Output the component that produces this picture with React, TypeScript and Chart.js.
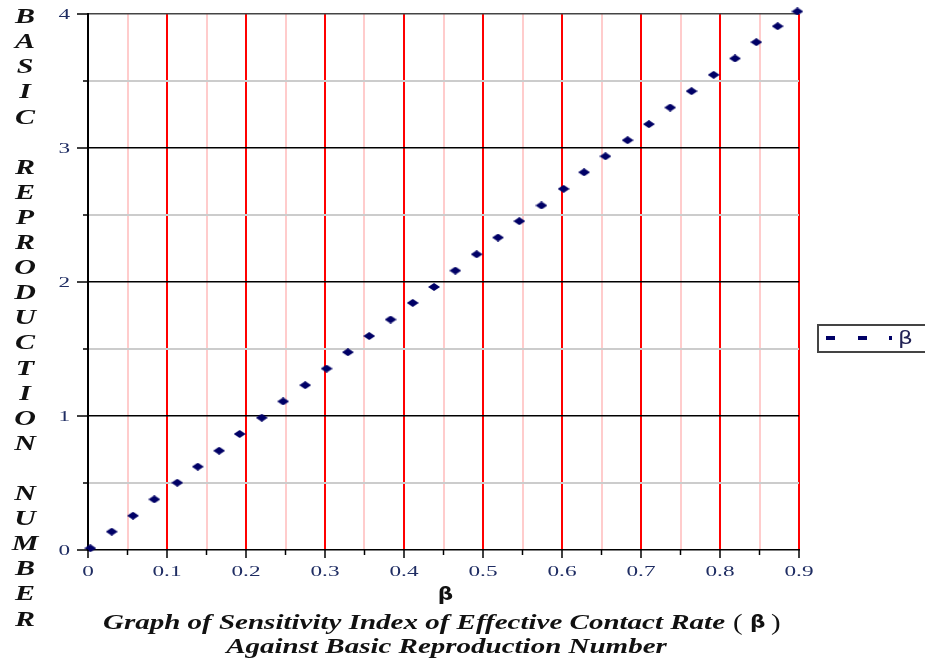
import React, { useEffect, useRef } from 'react';
import { Chart, registerables } from 'chart.js';

Chart.register(...registerables);

// ---- data ----
const seriesName = 'β';
const betaValues = [
  0.003, 0.030, 0.057, 0.084, 0.113, 0.139, 0.166, 0.192, 0.220, 0.247,
  0.275, 0.302, 0.329, 0.356, 0.383, 0.411, 0.438, 0.465, 0.492, 0.519,
  0.546, 0.574, 0.602, 0.628, 0.655, 0.683, 0.710, 0.737, 0.764, 0.792,
  0.819, 0.846, 0.873, 0.898,
];
const r0Values = [
  0.013, 0.137, 0.256, 0.378, 0.502, 0.622, 0.741, 0.866, 0.987, 1.109,
  1.230, 1.354, 1.476, 1.597, 1.720, 1.844, 1.963, 2.085, 2.207, 2.332,
  2.454, 2.571, 2.695, 2.819, 2.938, 3.058, 3.178, 3.302, 3.424, 3.546,
  3.668, 3.790, 3.909, 4.019,
];
const xTickValues = [0, 0.1, 0.2, 0.3, 0.4, 0.5, 0.6, 0.7, 0.8, 0.9];
const xTickLabels = ['0', '0.1', '0.2', '0.3', '0.4', '0.5', '0.6', '0.7', '0.8', '0.9'];
const yTickValues = [0, 1, 2, 3, 4];
const yTickLabels = ['0', '1', '2', '3', '4'];
const xAxisTitle = 'β';
const yAxisTitleWords = ['BASIC', 'REPRODUCTION', 'NUMBER'];
const titleLine1 = 'Graph of Sensitivity Index of Effective Contact Rate';
const titleSymbol = 'β';
const titleLine2 = 'Against Basic Reproduction Number';

const NAVY = '#000066';
const TICK_TEXT = '#1f2d63';

function makeDiamond(): HTMLCanvasElement {
  const c = document.createElement('canvas');
  c.width = 12;
  c.height = 8;
  const g = c.getContext('2d')!;
  g.fillStyle = NAVY;
  g.beginPath();
  g.moveTo(0, 4);
  g.lineTo(6, 0);
  g.lineTo(12, 4);
  g.lineTo(6, 8);
  g.closePath();
  g.fill();
  return c;
}

function stretchText(
  ctx: CanvasRenderingContext2D,
  text: string,
  x: number,
  y: number,
  sx: number,
  align: CanvasTextAlign,
) {
  ctx.save();
  ctx.translate(x, y);
  ctx.scale(sx, 1);
  ctx.textAlign = align;
  ctx.fillText(text, 0, 0);
  ctx.restore();
}

const isMult = (v: number, step: number) => {
  const q = v / step;
  return Math.abs(q - Math.round(q)) < 1e-6;
};

const decorPlugin = {
  id: 'decor',
  afterDraw(chart: any) {
    const ctx: CanvasRenderingContext2D = chart.ctx;
    const { left, right, top, bottom } = chart.chartArea;
    const xs = chart.scales.x;
    const ys = chart.scales.y;
    ctx.save();

    // tick marks
    ctx.strokeStyle = '#000';
    ctx.lineWidth = 1.5;
    for (const t of xs.ticks) {
      const px = xs.getPixelForValue(t.value);
      const len = isMult(t.value, 0.1) ? 8 : 5;
      ctx.beginPath();
      ctx.moveTo(px, bottom);
      ctx.lineTo(px, bottom + len);
      ctx.stroke();
    }
    for (const t of ys.ticks) {
      const py = ys.getPixelForValue(t.value);
      const len = isMult(t.value, 1) ? 11 : 5;
      ctx.beginPath();
      ctx.moveTo(left - len, py);
      ctx.lineTo(left, py);
      ctx.stroke();
    }

    // tick labels
    ctx.fillStyle = TICK_TEXT;
    ctx.font = '15px "Liberation Serif"';
    ctx.textBaseline = 'middle';
    xTickValues.forEach((v, i) => {
      stretchText(ctx, xTickLabels[i], xs.getPixelForValue(v), bottom + 22, 1.55, 'center');
    });
    yTickValues.forEach((v, i) => {
      stretchText(ctx, yTickLabels[i], left - 18, ys.getPixelForValue(v) + 1, 1.55, 'right');
    });

    // x axis title
    ctx.fillStyle = '#111';
    ctx.font = 'bold 18px "DejaVu Sans"';
    ctx.textBaseline = 'middle';
    stretchText(ctx, xAxisTitle, (left + right) / 2 + 2, bottom + 45, 1.2, 'center');

    // y axis title: stacked letters
    ctx.fillStyle = '#111';
    ctx.font = 'bold italic 20px "Liberation Serif"';
    ctx.textBaseline = 'middle';
    const lh = 25.1;
    let row = 0;
    yAxisTitleWords.forEach((w, wi) => {
      if (wi > 0) row += 1;
      for (const ch of w) {
        stretchText(ctx, ch, 25, top + 4 + row * lh, 1.5, 'center');
        row += 1;
      }
    });

    // bottom title
    ctx.fillStyle = '#111';
    ctx.font = 'bold italic 20px "Liberation Serif"';
    ctx.textBaseline = 'alphabetic';
    const w1 = ctx.measureText(titleLine1).width;
    const sx = 622 / w1;
    stretchText(ctx, titleLine1, 103, bottom + 79, sx, 'left');
    const w2 = ctx.measureText(titleLine2).width * sx;
    stretchText(ctx, titleLine2, (left + right) / 2 + 3 - w2 / 2, bottom + 103, sx, 'left');
    ctx.font = '24px "Liberation Serif"';
    stretchText(ctx, '(', 733, bottom + 80, 1.2, 'left');
    stretchText(ctx, ')', 771, bottom + 80, 1.2, 'left');
    ctx.font = 'bold 18px "DejaVu Sans"';
    stretchText(ctx, titleSymbol, 750, bottom + 78, 1.2, 'left');

    // legend
    const ly = 325;
    ctx.strokeStyle = '#444';
    ctx.lineWidth = 2;
    ctx.strokeRect(right + 19, ly, 140, 27);
    ctx.fillStyle = NAVY;
    ctx.fillRect(right + 27, ly + 11, 9, 4);
    ctx.fillRect(right + 59, ly + 11, 9, 4);
    ctx.fillRect(right + 90, ly + 11, 3, 4);
    ctx.fillStyle = '#222255';
    ctx.font = '18px "DejaVu Sans"';
    ctx.textBaseline = 'middle';
    stretchText(ctx, seriesName, right + 99, ly + 14, 1.3, 'left');

    ctx.restore();
  },
};

export default function App() {
  const canvasRef = useRef<HTMLCanvasElement | null>(null);

  useEffect(() => {
    if (!canvasRef.current) return;
    const diamond = makeDiamond();
    const points = betaValues.map((x, i) => ({ x, y: r0Values[i] }));
    const chart = new Chart(canvasRef.current, {
      type: 'scatter',
      data: {
        datasets: [
          {
            label: seriesName,
            data: points,
            pointStyle: diamond as any,
            pointRadius: 5,
            backgroundColor: NAVY,
            borderColor: NAVY,
            clip: false as any,
          },
        ],
      },
      options: {
        animation: false,
        responsive: true,
        maintainAspectRatio: false,
        layout: { padding: { left: 0, right: 126, top: 14, bottom: 0 } },
        plugins: {
          legend: { display: false },
          title: { display: false },
          tooltip: { enabled: false },
        },
        scales: {
          x: {
            type: 'linear',
            min: 0,
            max: 0.9,
            ticks: { stepSize: 0.05, display: false },
            afterFit: (s: any) => {
              s.height = 110;
            },
            grid: {
              drawTicks: false,
              color: (c: any) => {
                const v = c.tick ? c.tick.value : 0;
                if (Math.abs(v) < 1e-9) return 'rgba(0,0,0,0)';
                return isMult(v, 0.1) ? '#ff0000' : '#ffcccc';
              },
              lineWidth: 2,
            },
            border: { display: true, color: '#000', width: 1.5 },
          },
          y: {
            type: 'linear',
            min: 0,
            max: 4,
            ticks: { stepSize: 0.5, display: false },
            afterFit: (s: any) => {
              s.width = 88;
            },
            grid: {
              drawTicks: false,
              color: (c: any) => {
                const v = c.tick ? c.tick.value : 0;
                if (Math.abs(v) < 1e-9) return 'rgba(0,0,0,0)';
                if (Math.abs(v - 4) < 1e-9) return '#444';
                return isMult(v, 1) ? '#000' : '#cccccc';
              },
              lineWidth: (c: any) => {
                const v = c.tick ? c.tick.value : 0;
                return isMult(v, 1) ? 1.5 : 2;
              },
            },
            border: { display: true, color: '#000', width: 2 },
          },
        },
      },
      plugins: [decorPlugin],
    });
    return () => chart.destroy();
  }, []);

  return (
    <div style={{ position: 'fixed', left: 0, top: 0, width: 925, height: 660, background: '#fff' }}>
      <canvas ref={canvasRef} />
    </div>
  );
}
